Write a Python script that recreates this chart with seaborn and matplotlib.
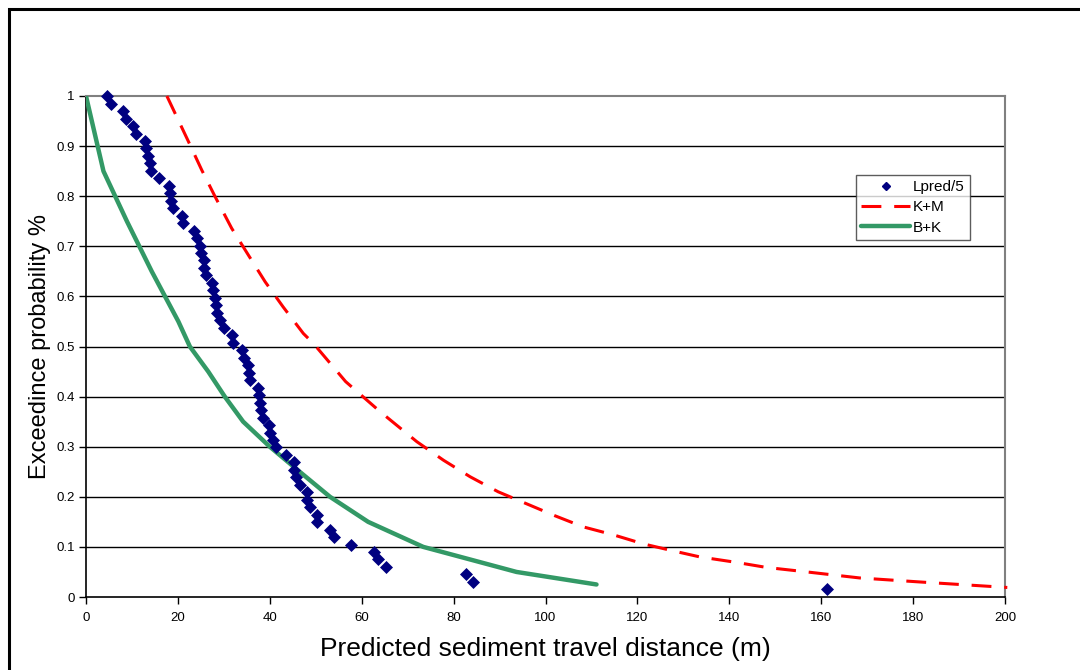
import matplotlib
matplotlib.use("Agg")
import matplotlib.pyplot as plt
import seaborn as sns
import pandas as pd
from matplotlib.patches import Rectangle
from matplotlib.lines import Line2D

# ---------------- data ----------------
lpred_x = [4.65, 5.4, 7.98, 8.7, 10.2, 10.9, 12.8, 13.0, 13.6, 13.9,
           14.1, 15.8, 18.1, 18.3, 18.6, 18.9, 20.9, 21.2, 23.4, 24.1,
           24.8, 25.0, 25.7, 25.7, 26.1, 27.4, 27.7, 28.0, 28.4, 28.6,
           29.2, 30.0, 31.8, 31.9, 34.0, 34.3, 35.2, 35.4, 35.6, 37.4,
           37.7, 37.9, 38.1, 38.6, 39.8, 40.0, 40.6, 41.3, 43.5, 45.3,
           45.3, 45.7, 46.5, 48.1, 48.2, 48.7, 50.3, 50.3, 53.1, 54.0,
           57.6, 62.7, 63.5, 65.3, 82.7, 84.2, 161.2]
lpred_y = [1.0, 0.985, 0.970, 0.955, 0.940, 0.925, 0.910, 0.896, 0.881, 0.866,
           0.851, 0.836, 0.821, 0.806, 0.791, 0.776, 0.761, 0.746, 0.731, 0.716,
           0.701, 0.687, 0.672, 0.657, 0.642, 0.627, 0.612, 0.597, 0.582, 0.567,
           0.552, 0.537, 0.522, 0.507, 0.493, 0.478, 0.463, 0.448, 0.433, 0.418,
           0.403, 0.388, 0.373, 0.358, 0.343, 0.328, 0.313, 0.299, 0.284, 0.269,
           0.254, 0.239, 0.224, 0.209, 0.194, 0.179, 0.164, 0.149, 0.134, 0.119,
           0.104, 0.090, 0.075, 0.060, 0.045, 0.030, 0.015]

km_x = [17.6, 22.3, 25.2, 28.1, 31.7, 35.3, 39.0, 42.9, 47.3, 49.5,
        56.5, 64.0, 72.0, 77.8, 83.6, 89.7, 95.9, 102.1, 108.2, 114.8,
        121.3, 127.8, 133.6, 141.6, 148.1, 155.0, 168.4, 181.5, 200.5]
km_y = [1.0, 0.909, 0.852, 0.799, 0.736, 0.683, 0.629, 0.579, 0.526, 0.506,
        0.43, 0.37, 0.310, 0.273, 0.240, 0.210, 0.186, 0.162, 0.140, 0.124,
        0.106, 0.092, 0.080, 0.069, 0.059, 0.052, 0.038, 0.030, 0.019]

bk_x = [0, 3.8, 8.9, 14.3, 20.1, 22.6, 26.6, 30.2, 34.2, 40.0,
        46.5, 53.1, 61.4, 73.4, 93.7, 111.1]
bk_y = [1.0, 0.85, 0.75, 0.65, 0.55, 0.5, 0.45, 0.4, 0.35, 0.3,
        0.25, 0.2, 0.15, 0.1, 0.05, 0.025]

x_ticks = [0, 20, 40, 60, 80, 100, 120, 140, 160, 180, 200]
y_ticks = [0, 0.1, 0.2, 0.3, 0.4, 0.5, 0.6, 0.7, 0.8, 0.9, 1]
y_tick_labels = ["0", "0.1", "0.2", "0.3", "0.4", "0.5", "0.6", "0.7", "0.8", "0.9", "1"]

series_names = ["Lpred/5", "K+M", "B+K"]
x_label = "Predicted sediment travel distance (m)"
y_label = "Exceedince probability %"

# ---------------- style ----------------
sns.set_theme(style="white")
plt.rcParams["font.family"] = ["Liberation Sans", "DejaVu Sans"]
plt.rcParams["text.color"] = "black"
plt.rcParams["axes.labelcolor"] = "black"
plt.rcParams["xtick.color"] = "black"
plt.rcParams["ytick.color"] = "black"

NAVY = "#000080"
RED = "#FF0000"
GREEN = "#339966"

fig = plt.figure(figsize=(10.8, 6.7), dpi=100)
fig.patch.set_facecolor("white")
ax = fig.add_axes([86 / 1080, 73 / 670, 919 / 1080, 501 / 670])

df_l = pd.DataFrame({"x": lpred_x, "y": lpred_y})
df_k = pd.DataFrame({"x": km_x, "y": km_y})
df_b = pd.DataFrame({"x": bk_x, "y": bk_y})

# gridlines
for yv in y_ticks[1:-1]:
    ax.axhline(yv, color="black", lw=1.0, zorder=1)

sns.lineplot(data=df_b, x="x", y="y", ax=ax, sort=False, estimator=None,
             color=GREEN, lw=3.2, zorder=3, solid_capstyle="round")
sns.lineplot(data=df_k, x="x", y="y", ax=ax, sort=False, estimator=None,
             color=RED, lw=2.2, zorder=3, dashes=False)
ax.lines[-1].set_linestyle((0, (6.5, 4.2)))
ax.lines[-1].set_clip_on(False)
sns.scatterplot(data=df_l, x="x", y="y", ax=ax, marker="D", s=44,
                color=NAVY, edgecolor=NAVY, linewidth=0, zorder=4, clip_on=False)

ax.set_xlim(0, 200)
ax.set_ylim(0, 1)
ax.set_xticks(x_ticks)
ax.set_xticklabels([str(t) for t in x_ticks])
ax.set_yticks(y_ticks)
ax.set_yticklabels(y_tick_labels)
ax.tick_params(axis="both", which="both", direction="out", length=5, width=1,
               color="black", labelcolor="black", labelsize=9.5, pad=3,
               bottom=True, left=True)
ax.tick_params(axis="x", pad=6)

for side in ["left", "bottom"]:
    ax.spines[side].set_color("black")
    ax.spines[side].set_linewidth(1.2)
for side in ["top", "right"]:
    ax.spines[side].set_color("#808080")
    ax.spines[side].set_linewidth(1.5)

ax.set_xlabel(x_label, fontsize=19, labelpad=9, color="black")
ax.set_ylabel(y_label, fontsize=17, labelpad=4, color="black")

handles = [
    Line2D([], [], marker="D", color=NAVY, ls="none", markersize=4.5),
    Line2D([], [], color=RED, lw=2.2, ls=(0, (6.5, 4.2))),
    Line2D([], [], color=GREEN, lw=3.2),
]
leg = fig.legend(handles, series_names, loc="upper left",
                 bbox_to_anchor=(856 / 1080, 1 - 175 / 670),
                 frameon=True, fancybox=False, fontsize=11,
                 handlelength=3.2, handletextpad=0.15, borderpad=0.35,
                 labelspacing=0.4, borderaxespad=0)
leg.get_frame().set_edgecolor("#333333")
leg.get_frame().set_linewidth(1.0)
for t in leg.get_texts():
    t.set_color("black")

# outer frame
fig.patches.append(Rectangle((9 / 1080, -0.05), 1.1, 1 - 9 / 670 + 0.05,
                             transform=fig.transFigure, fill=False,
                             edgecolor="black", lw=2.2))

fig.savefig("out.png", dpi=100, facecolor="white")
